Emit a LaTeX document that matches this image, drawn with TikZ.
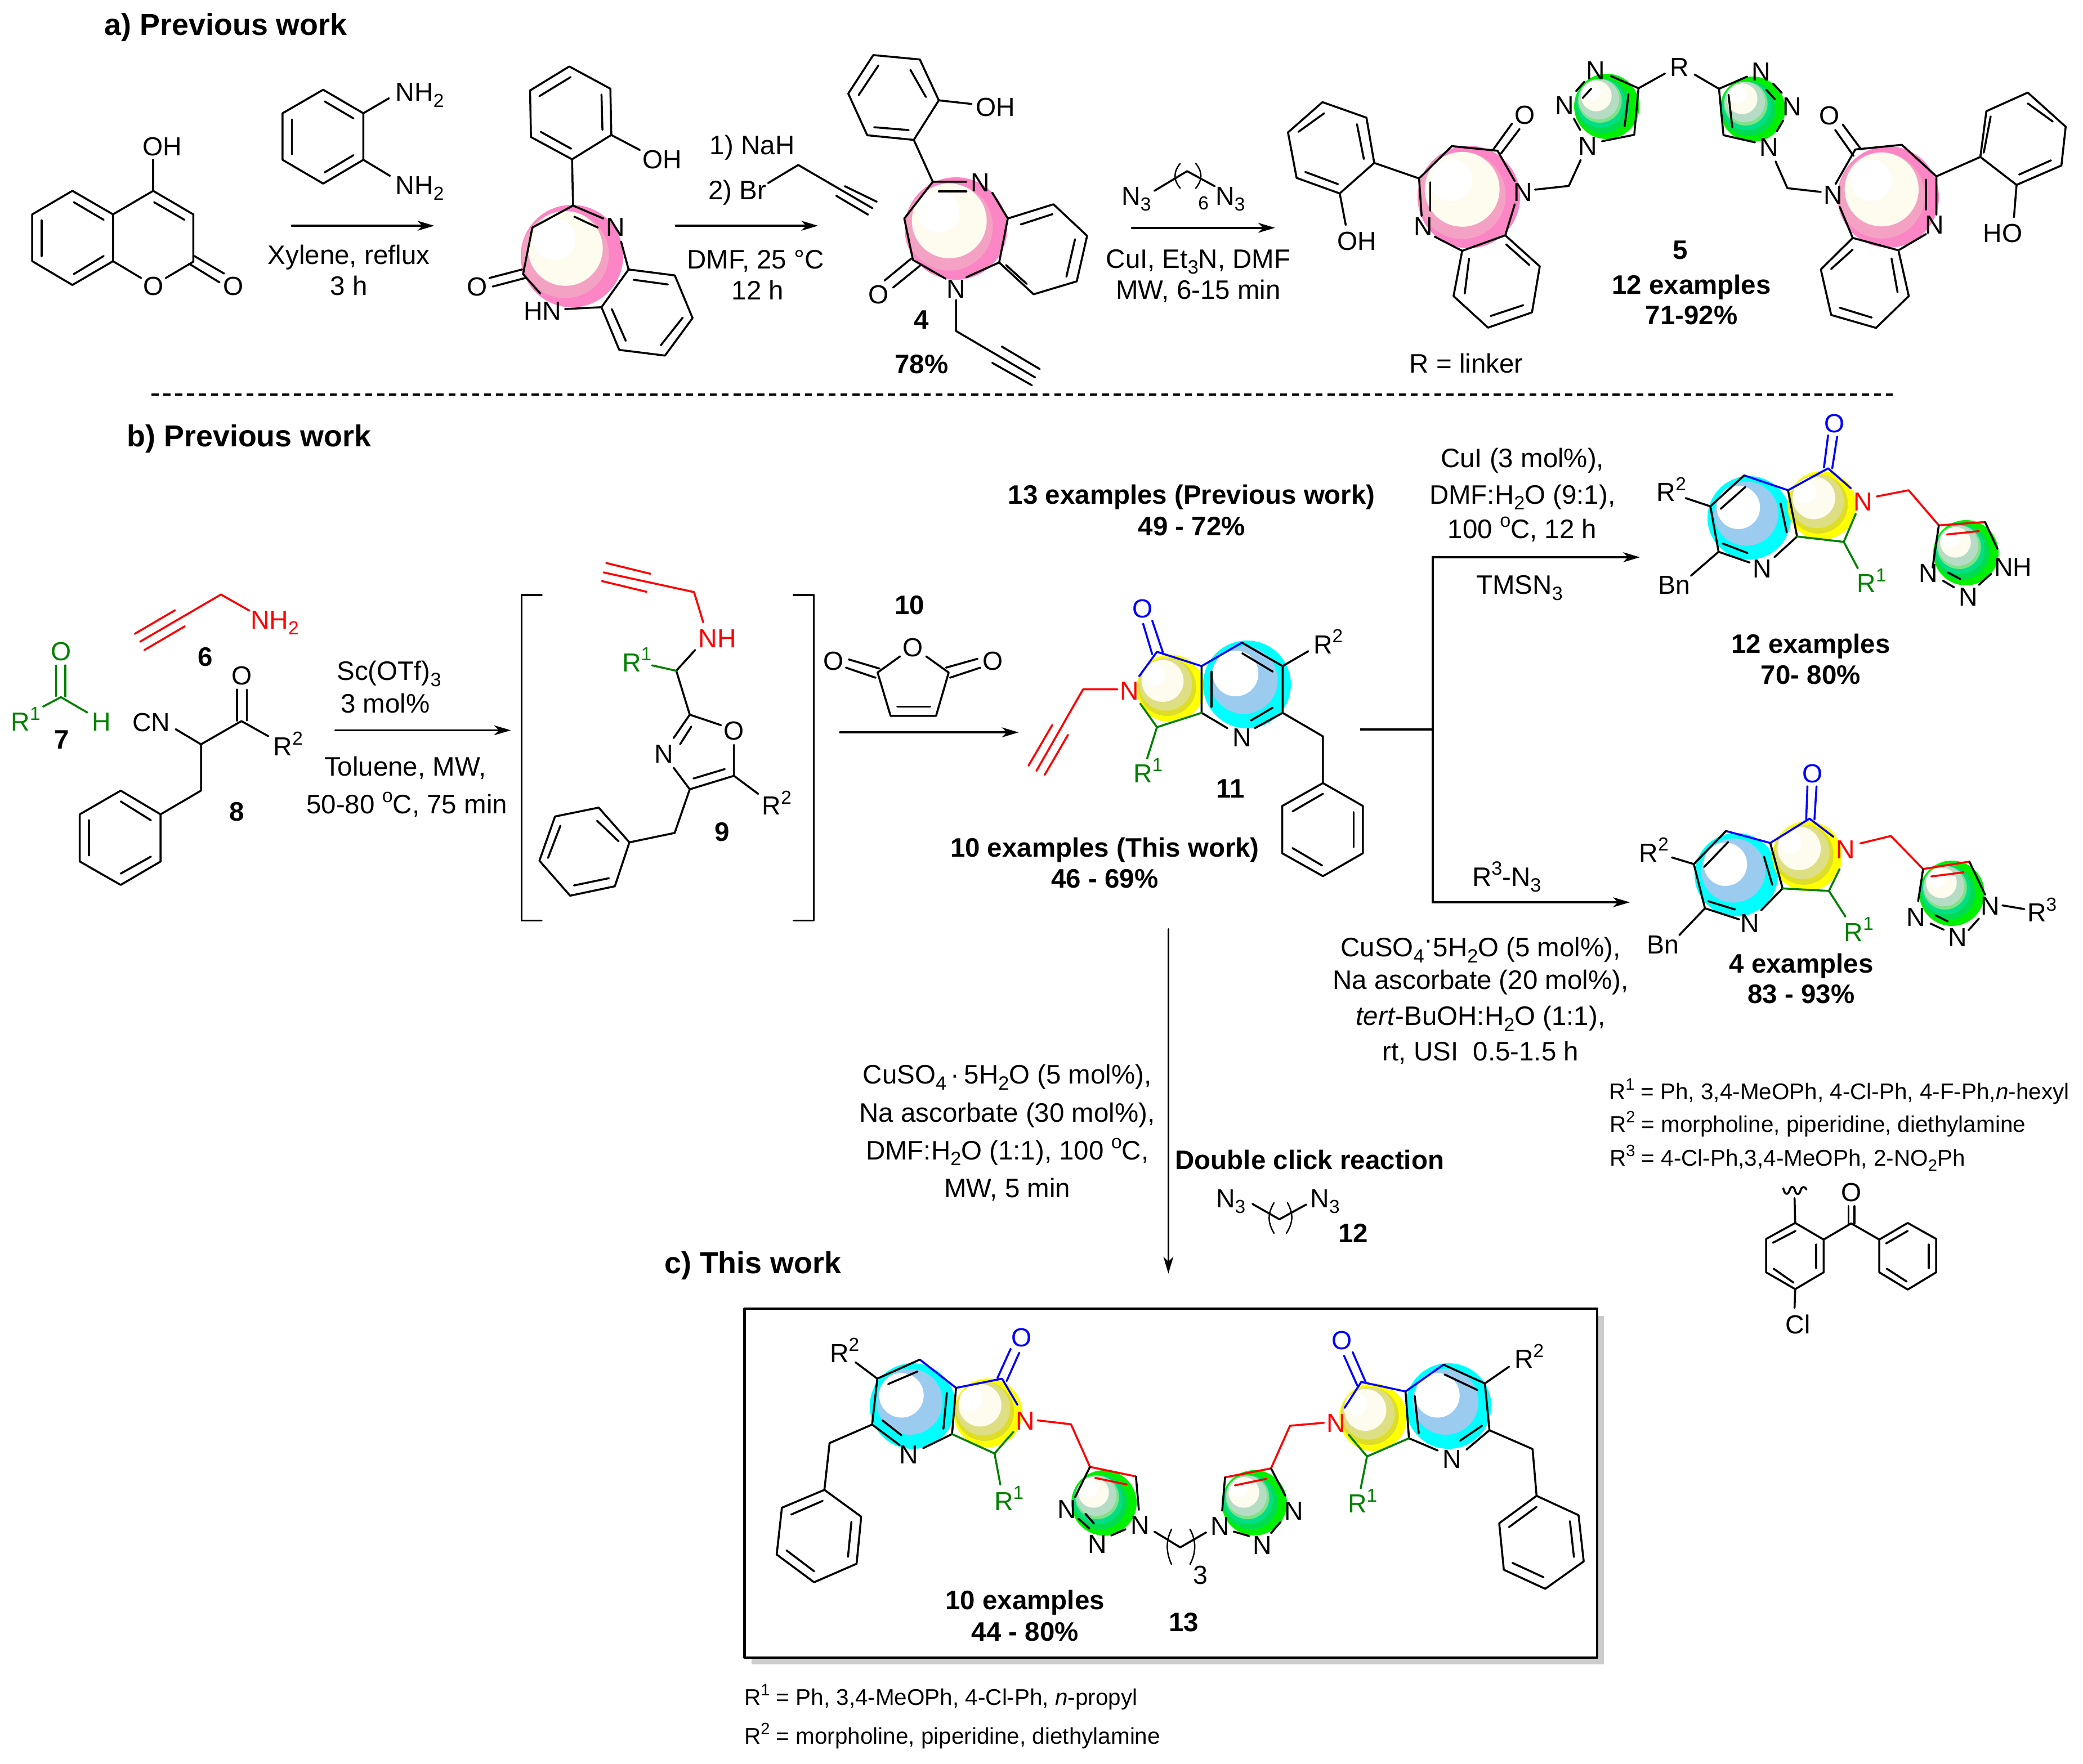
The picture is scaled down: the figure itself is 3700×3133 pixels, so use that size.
\documentclass[tikz,border=0pt]{standalone}
\usepackage{fontspec}
\setmainfont{Liberation Sans}
\usetikzlibrary{arrows.meta}

\definecolor{chemgreen}{HTML}{008000}
\definecolor{boxshadow}{HTML}{CCCCCC}
\definecolor{cream}{HTML}{FEFBEF}
\definecolor{discyan}{HTML}{00FFFF}
\definecolor{disyellow}{HTML}{FFFF00}

\newcommand{\subtxt}[1]{\raisebox{-.22em}{\scalebox{.72}{#1}}}
\newcommand{\suptxt}[1]{\raisebox{.42em}{\scalebox{.72}{#1}}}
\newcommand{\atsub}[1]{\rlap{\subtxt{#1}}}
\newcommand{\atsup}[1]{\rlap{\suptxt{#1}}}

\tikzset{
    crop/.style n args={4}{shift={(#1,#2)},x=#3*0.28453pt/1568,y=-#4*0.28453pt/1568},
    bond/.style={line width=1pt,line cap=round,line join=round},
    atom/.style={inner sep=0pt,text height=9.6pt,text depth=0pt,font=\fontsize{13.2}{16}\selectfont},
    atred/.style={atom,text=red},
    atgreen/.style={atom,text=chemgreen},
    atblue/.style={atom,text=blue},
    rgt/.style={atom,font=\fontsize{13.5}{16}\selectfont},
    tag/.style={atom,font=\fontsize{13.5}{16}\selectfont\bfseries},
    head/.style={atom,anchor=west,font=\fontsize{15.3}{18}\selectfont\bfseries},
    note/.style={atom,anchor=west,font=\fontsize{11.5}{14}\selectfont},
    rxn/.style={line width=1pt,-{Stealth[length=8.5pt,width=5pt,inset=2.5pt]}},
}

% coloured discs behind the rings
\newcommand{\pinkball}[3]{\begin{scope}[shift={(#1,#2)},scale=#3]
\fill[fill={rgb,255:red,251;green,133;blue,197}] (0,0) circle (1);
\fill[fill={rgb,255:red,244;green,162;blue,196}] (-.13,-.03) circle (.85);
\fill[cream] (-.13,-.15) circle (.73);
\fill[white] (-.34,-.33) circle (.41);
\end{scope}}
\newcommand{\greenball}[3]{\begin{scope}[shift={(#1,#2)},scale=#3]
\fill[fill={rgb,255:red,0;green,240;blue,0}] (0,0) circle (1);
\fill[fill={rgb,255:red,0;green,220;blue,80}] (-.12,-.02) circle (.84);
\fill[fill={rgb,255:red,0;green,223;blue,133}] (-.18,-.1) circle (.75);
\fill[fill={rgb,255:red,127;green,226;blue,135}] (-.21,-.17) circle (.67);
\fill[fill={rgb,255:red,183;green,220;blue,197}] (-.24,-.22) circle (.62);
\fill[cream] (-.32,-.32) circle (.47);
\fill[white] (-.47,-.45) circle (.28);
\end{scope}}
\newcommand{\yellowball}[3]{\begin{scope}[shift={(#1,#2)},scale=#3]
\fill[disyellow] (0,0) circle (1);
\fill[fill={rgb,255:red,222;green,222;blue,40}] (-.1,-.04) circle (.86);
\fill[fill={rgb,255:red,222;green,222;blue,133}] (-.14,-.12) circle (.78);
\fill[cream] (-.23,-.22) circle (.62);
\fill[white] (-.49,-.39) circle (.33);
\end{scope}}
\newcommand{\cyanball}[3]{\begin{scope}[shift={(#1,#2)},scale=#3]
\fill[discyan] (0,0) circle (1);
\fill[fill={rgb,255:red,156;green,203;blue,240}] (-.07,-.1) circle (.77);
\fill[white] (-.26,-.25) circle (.52);
\end{scope}}

\begin{document}
\begin{tikzpicture}[x=0.01cm,y=-0.01cm]
\useasboundingbox (0,0) rectangle (3700,3133);

\pinkball{1016}{455}{91}
\pinkball{1698}{406}{91}
\pinkball{2609}{350}{91}
\pinkball{3354}{350}{90}
\greenball{2854}{189}{58}
\greenball{3113}{194}{58}

% a) coumarin, diamine, first product
\begin{scope}[crop={0}{0}{1300}{720},bond]
\node[head] (heada) at (222,100) {a) Previous work};
\draw (242,829) -- (155,738) -- (69,829) -- (69,1010) -- (155,1102) -- (242,1010) -- cycle;
\draw (158,782) -- (222,850);
\draw (89,852) -- (89,990);
\draw (158,1060) -- (222,990);
\draw (242,829) -- (328,738) -- (414,829) -- (414,1012) -- (355,1075);
\draw (242,1010) -- (302,1075);
\draw (330,782) -- (395,850);
\draw (416,990) -- (480,1058);
\draw (405,1020) -- (470,1092);
\draw (328,738) -- (328,618);
\node[atom] (couoh) at (348,565) {OH};
\node[atom] (couoa) at (328,1105) {O};
\node[atom] (couob) at (500,1105) {O};

\draw (692,347) -- (778,438) -- (778,618) -- (692,710) -- (605,618) -- (605,438) -- cycle;
\draw (695,392) -- (757,458);
\draw (625,462) -- (625,597);
\draw (695,667) -- (757,600);
\draw (778,438) -- (833,380);
\draw (778,618) -- (835,680);
\node[atom,anchor=west] (dianha) at (845,355) {NH\atsub{2}};
\node[atom,anchor=west] (dianhb) at (845,715) {NH\atsub{2}};

\coordinate (xyla) at (625,873);
\coordinate (xylb) at (930,873);
\draw[rxn] (xyla) -- (xylb);
\node[rgt] (xyltxt) at (747,985) {Xylene, reflux};
\node[rgt] (xyltime) at (747,1105) {3 h};

\draw (1219,257) -- (1307,343) -- (1309,522) -- (1225,616) -- (1137,530) -- (1135,350) -- cycle;
\draw (1222,298) -- (1155,372);
\draw (1288,366) -- (1290,502);
\draw (1158,510) -- (1223,575);
\draw (1309,522) -- (1370,580);
\node[atom] (proh) at (1418,615) {OH};
\draw (1225,616) -- (1227,795);
\draw (1292,845) -- (1227,795) -- (1140,880) -- (1120,1060) -- (1157,1135);
\draw (1230,838) -- (1280,880);
\node[atom] (prn) at (1318,877) {N};
\draw (1330,935) -- (1346,1042);
\draw (1346,1042) -- (1445,1065) -- (1483,1230) -- (1424,1375) -- (1326,1353) -- (1288,1188) -- cycle;
\draw (1357,1082) -- (1430,1100);
\draw (1462,1228) -- (1415,1335);
\draw (1340,1318) -- (1310,1195);
\draw (1288,1188) -- (1210,1195);
\node[atom] (prhn) at (1162,1200) {HN};
\draw (1118,1042) -- (1048,1075);
\draw (1125,1075) -- (1055,1108);
\node[atom] (pro) at (1022,1107) {O};

\node[rgt,anchor=west] (nahstep) at (1518,560) {1) NaH};
\node[rgt,anchor=west] (brstep) at (1515,735) {2) Br};
\coordinate (naha) at (1447,873);
\end{scope}

\node[rgt] (dmfa) at (1342,461) {DMF, 25 °C};
\node[rgt] (dmfb) at (1346,516) {12 h};

% a) compound 4 and compound 5
\begin{scope}[crop={1300}{0}{2400}{720},bond]
\coordinate (nahb) at (100,873);
\draw[rxn] (naha) -- (nahb);
\draw (42,708) -- (77,638) -- (163,805);
\draw (131,720) -- (168,780);
\draw (121,757) -- (158,830);

\draw (164,213) -- (218,230) -- (240,388) -- (211,541) -- (157,523) -- (135,362) -- cycle;
\draw (170,253) -- (147,368);
\draw (207,270) -- (225,375);
\draw (165,492) -- (205,503);
\draw (240,388) -- (278,402);
\node[atom] (foh) at (306,412) {OH};
\draw (211,541) -- (233,703) -- (272,703);
\draw (240,740) -- (272,740);
\node[atom] (fn) at (288,705) {N};
\draw (302,745) -- (320,845);
\draw (320,845) -- (373,790) -- (412,912) -- (400,1088) -- (350,1138) -- (310,1015) -- cycle;
\draw (335,868) -- (372,828);
\draw (398,925) -- (388,1070);
\draw (342,1098) -- (318,1025);
\draw (310,1015) -- (272,1072);
\node[atom] (fnb) at (260,1115) {N};
\draw (248,1078) -- (210,1005) -- (200,845) -- (233,703);
\draw (208,1000) -- (177,1085);
\draw (218,1028) -- (187,1112);
\node[atom] (fo) at (170,1137) {O};
\draw (260,1160) -- (260,1280) -- (352,1460);
\draw (313,1340) -- (357,1427);
\draw (302,1403) -- (348,1490);
\node[tag] (lblf) at (220,1235) {4};
\node[tag] (yldf) at (220,1408) {78\%};

\coordinate (cuia) at (464,881);
\coordinate (cuib) at (630,881);
\draw[rxn] (cuia) -- (cuib);
\node[atom] (azla) at (463,757) {N\atsub{3}};
\node[atom] (azlb) at (572,757) {N\atsub{3}};
\draw (490,738) -- (528,662) -- (560,720);
\draw[line width=.7pt] (520,632) .. controls (512,665) and (512,695) .. (520,728);
\draw[line width=.7pt] (538,632) .. controls (546,665) and (546,695) .. (538,728);
\node[atom,font=\fontsize{9.5}{11}\selectfont] (azln) at (547,775) {6};
\node[rgt] (cuitxt) at (541,1000) {CuI, Et\subtxt{3}N, DMF};
\node[rgt] (cuitime) at (541,1120) {MW, 6-15 min};

% left half of 5
\draw (685,395) -- (736,455) -- (745,630) -- (705,748) -- (655,688) -- (645,512) -- cycle;
\draw (687,438) -- (657,510);
\draw (725,480) -- (733,615);
\draw (665,665) -- (703,712);
\draw (745,630) -- (797,690);
\draw (705,748) -- (712,870);
\node[atom] (pleftoh) at (725,930) {OH};
\draw (800,835) -- (797,690) -- (835,565) -- (888,583);
\draw (810,705) -- (810,815);
\node[atom] (pleftna) at (802,875) {N};
\draw (815,915) -- (847,970) -- (897,910) -- (908,790);
\draw (888,583) -- (908,700);
\draw (897,910) -- (937,1030) -- (928,1208) -- (877,1267) -- (837,1145) -- (847,970);
\draw (898,945) -- (925,1025);
\draw (855,1000) -- (850,1135);
\draw (880,1222) -- (918,1180);

% right half of 5
\draw (1303,578) -- (1357,560) -- (1397,682) -- (1397,830);
\draw (1385,695) -- (1385,810);
\node[atom] (prightna) at (1395,868) {N};
\draw (1385,905) -- (1353,968) -- (1300,920) -- (1285,800);
\draw (1280,712) -- (1303,578);
\draw (1300,920) -- (1263,1042) -- (1275,1218) -- (1327,1268) -- (1365,1145) -- (1353,968);
\draw (1300,965) -- (1275,1040);
\draw (1345,1000) -- (1352,1130);
\draw (1285,1190) -- (1322,1228);
\draw (1397,682) -- (1448,607);
\draw (1448,607) -- (1490,715) -- (1542,640) -- (1547,490) -- (1503,358) -- (1455,430) -- cycle;
\draw (1503,400) -- (1532,470);
\draw (1460,450) -- (1452,590);
\draw (1493,675) -- (1530,620);
\draw (1490,715) -- (1487,840);
\node[atom] (prightoh) at (1474,900) {HO};

\node[tag] (lblp) at (1100,965) {5};
\node[tag] (expp) at (1113,1100) {12 examples};
\node[tag] (yldp) at (1113,1218) {71-92\%};
\node[rgt] (linker) at (852,1405) {R = linker};
\end{scope}

% triazoles of 5
\begin{scope}[crop={2600}{80}{700}{523},bond]
\node[atom] (tla) at (525,135) {N};
\node[atom] (tlb) at (402,318) {N};
\node[atom] (tlc) at (492,535) {N};
\node[atom] (link) at (857,115) {R};
\draw (800,152) -- (695,230) -- (585,165);
\draw (695,230) -- (678,478) -- (550,512);
\draw (655,262) -- (640,432);
\draw (480,195) -- (447,245);
\draw (507,232) -- (473,282);
\draw (438,392) -- (463,452);
\draw (465,612) -- (418,750) -- (283,770);
\node[atom] (pleftnb) at (235,782) {N};
\draw (192,418) -- (118,555);
\draw (222,447) -- (148,578);
\node[atom] (plefto) at (243,370) {O};
\draw (918,157) -- (1015,233) -- (1127,168);
\node[atom] (tra) at (1183,140) {N};
\draw (1230,205) -- (1265,255);
\draw (1203,238) -- (1237,288);
\node[atom] (trb) at (1305,325) {N};
\draw (1270,402) -- (1245,460);
\node[atom] (trc) at (1213,540) {N};
\draw (1158,518) -- (1033,480) -- (1015,233);
\draw (1053,265) -- (1068,438);
\draw (1240,620) -- (1287,762) -- (1420,782);
\node[atom] (prightnb) at (1470,795) {N};
\node[atom] (prighto) at (1455,372) {O};
\draw (1477,452) -- (1550,590);
\draw (1507,423) -- (1580,555);
\end{scope}

\coordinate (cuta) at (269,701);
\coordinate (cutb) at (3366,701);
\draw[line width=1pt,dash pattern=on 3.6pt off 2.4pt] (cuta) -- (cutb);
\node[head] (headb) at (225,777) {b) Previous work};

% b) components and intermediate 9
\begin{scope}[crop={0}{950}{1500}{750},bond]
\begin{scope}[draw=chemgreen]
\draw (104,485) -- (104,600);
\draw (121,485) -- (121,600);
\draw (80,638) -- (113,603) -- (162,660);
\end{scope}
\node[atgreen] (aldo) at (113,432) {O};
\node[atgreen] (aldr) at (38,693) {R\atsup{1}};
\node[atgreen] (aldh) at (188,693) {H};
\node[tag] (lbla) at (115,760) {7};

\begin{scope}[draw=red]
\draw (463,282) -- (410,222) -- (260,397);
\draw (325,280) -- (250,368);
\draw (343,340) -- (268,428);
\end{scope}
\node[atred] (amine) at (500,315) {NH\atsub{2}};
\node[tag] (lblb) at (381,452) {6};

\node[atom] (isocn) at (281,695) {CN};
\draw (326,722) -- (373,778) -- (448,692) -- (498,748);
\draw (373,778) -- (373,950) -- (298,1038);
\draw (440,575) -- (440,690);
\draw (458,575) -- (458,690);
\node[atom] (isoo) at (449,522) {O};
\node[atom] (isor) at (525,785) {R\atsup{2}};
\node[tag] (lblc) at (440,1028) {8};
\draw (298,1038) -- (224,950) -- (148,1038) -- (148,1213) -- (224,1300) -- (298,1213) -- cycle;
\draw (224,990) -- (280,1060);
\draw (165,1060) -- (165,1190);
\draw (224,1258) -- (280,1195);

\coordinate (sca) at (622,726);
\coordinate (scb) at (948,726);
\draw[rxn] (sca) -- (scb);
\node[rgt] (sctxt) at (722,505) {Sc(OTf)\subtxt{3}};
\node[rgt] (scmol) at (715,625) {3 mol\%};
\node[rgt] (sctol) at (752,860) {Toluene, MW,};
\node[rgt] (sctime) at (755,1000) {50-80 \suptxt{o}C, 75 min};

\draw (1005,224) -- (968,224) -- (968,1432) -- (1005,1432);
\draw (1473,224) -- (1510,224) -- (1510,1432) -- (1473,1432);

\begin{scope}[draw=red]
\draw (1305,325) -- (1288,213) -- (1120,140);
\draw (1207,145) -- (1125,105);
\draw (1200,212) -- (1117,172);
\end{scope}
\node[atred] (intnh) at (1331,383) {NH};
\draw (1290,428) -- (1255,505) -- (1280,668) -- (1338,707);
\draw[chemgreen] (1255,505) -- (1210,485);
\node[atgreen] (intra) at (1172,473) {R\atsup{1}};
\node[atom] (into) at (1362,727) {O};
\draw (1362,780) -- (1362,895) -- (1280,945) -- (1250,865);
\draw (1345,870) -- (1287,905);
\node[atom] (intn) at (1232,812) {N};
\draw (1250,755) -- (1280,668);
\draw (1262,778) -- (1283,712);
\draw (1362,895) -- (1407,962);
\node[atom] (intrb) at (1432,1005) {R\atsup{2}};
\draw (1280,945) -- (1252,1107) -- (1168,1142);
\draw (1168,1142) -- (1111,1013) -- (1030,1046) -- (1001,1210) -- (1058,1340) -- (1141,1305) -- cycle;
\draw (1108,1062) -- (1148,1138);
\draw (1040,1080) -- (1017,1200);
\draw (1065,1302) -- (1130,1275);
\node[tag] (lbld) at (1340,1103) {9};
\end{scope}

\yellowball{2079}{1223}{60}
\cyanball{2215}{1216}{78}

% b) anhydride and compound 11
\begin{scope}[crop={1450}{800}{1100}{850},bond]
\node[tag] (expa) at (950,145) {13 examples (Previous work)};
\node[tag] (ylda) at (950,248) {49 - 72\%};
\node[tag] (lble) at (236,507) {10};
\node[atom] (anho) at (245,645) {O};
\draw (212,675) -- (155,728) -- (188,870) -- (303,870) -- (335,728) -- (278,675);
\draw (205,840) -- (288,840);
\draw (160,715) -- (82,685);
\draw (150,745) -- (75,712);
\node[atom] (anhl) at (43,688) {O};
\draw (328,712) -- (408,683);
\draw (338,745) -- (415,712);
\node[atom] (anhr) at (447,688) {O};
\coordinate (maa) at (60,924);
\coordinate (mab) at (512,924);
\draw[rxn] (maa) -- (mab);

\node[atred] (lacn) at (792,787) {N};
\begin{scope}[draw=red]
\draw (762,783) -- (675,783) -- (557,1050);
\draw (597,900) -- (537,1033);
\draw (637,932) -- (578,1063);
\end{scope}
\begin{scope}[draw=blue]
\draw (817,740) -- (862,660) -- (975,707) -- (1077,630);
\draw (850,668) -- (827,568);
\draw (877,662) -- (850,558);
\end{scope}
\node[atblue] (laco) at (826,518) {O};
\draw (1077,630) -- (1180,707) -- (1180,860) -- (1110,910);
\draw (1078,665) -- (1155,725);
\draw (1100,885) -- (1155,843);
\node[atom] (pyn) at (1077,940) {N};
\draw (1040,910) -- (975,860) -- (975,707);
\draw (1000,725) -- (1000,840);
\begin{scope}[draw=chemgreen]
\draw (975,860) -- (862,907) -- (820,830);
\draw (862,907) -- (837,1010);
\end{scope}
\node[atgreen] (lacra) at (826,1057) {R\atsup{1}};
\draw (1180,707) -- (1245,658);
\node[atom] (lacrb) at (1282,635) {R\atsup{2}};
\draw (1180,860) -- (1282,937) -- (1282,1090);
\draw (1282,1090) -- (1383,1165) -- (1383,1320) -- (1282,1395) -- (1179,1320) -- (1179,1165) -- cycle;
\draw (1282,1125) -- (1205,1183);
\draw (1360,1185) -- (1360,1300);
\draw (1280,1360) -- (1205,1303);
\node[tag] (lblg) at (1048,1108) {11};
\node[tag] (expb) at (730,1300) {10 examples (This work)};
\node[tag] (yldb) at (730,1403) {46 - 69\%};
\end{scope}

\coordinate (forka) at (2416,1296);
\coordinate (forkb) at (2545,1296);
\coordinate (forkt) at (2545,990);
\coordinate (forkd) at (2545,1603);
\coordinate (tmsend) at (2913,990);
\coordinate (azend) at (2895,1603);
\draw[line width=1pt] (forka) -- (forkb);
\draw[rxn] (forkb) -- (forkt) -- (tmsend);
\draw[rxn] (forkb) -- (forkd) -- (azend);

\cyanball{3107}{920}{74}
\yellowball{3236}{898}{61}
\greenball{3492}{982}{58}
\cyanball{3084}{1554}{74}
\yellowball{3210}{1521}{62}
\greenball{3467}{1587}{58}

% b) the two triazole products
\begin{scope}[crop={2550}{700}{1150}{1150},bond]
\node[rgt] (tmsa) at (210,155) {CuI (3 mol\%),};
\node[rgt] (tmsb) at (210,243) {DMF:H\subtxt{2}O (9:1),};
\node[rgt] (tmsc) at (210,327) {100 \suptxt{o}C, 12 h};
\node[rgt] (tmsd) at (203,462) {TMSN\subtxt{3}};

\begin{scope}[draw=blue]
\draw (747,197) -- (853,233) -- (950,180) -- (1005,228);
\draw (940,178) -- (950,100);
\draw (960,180) -- (972,103);
\end{scope}
\node[atblue] (upo) at (965,70) {O};
\draw (747,197) -- (665,272) -- (685,382) -- (760,408);
\draw (750,225) -- (690,278);
\draw (695,362) -- (755,385);
\node[atom] (upn) at (790,422) {N};
\draw (820,395) -- (875,345) -- (853,233);
\draw (835,265) -- (850,335);
\begin{scope}[draw=chemgreen]
\draw (875,345) -- (988,358) -- (1017,290);
\draw (988,358) -- (1022,422);
\end{scope}
\node[atgreen] (upra) at (1043,458) {R\atsup{1}};
\node[atred] (uplac) at (1035,260) {N};
\begin{scope}[draw=red]
\draw (1068,248) -- (1145,233) -- (1218,318) -- (1330,310);
\draw (1238,340) -- (1315,332);
\end{scope}
\draw (1218,318) -- (1203,420);
\draw (1330,310) -- (1360,375);
\node[atom] (upta) at (1193,433) {N};
\node[atom] (uptb) at (1290,490) {N};
\node[atom] (uptc) at (1398,418) {NH};
\draw (1228,452) -- (1255,468);
\draw (1240,432) -- (1270,448);
\draw (1315,462) -- (1345,435);
\draw (605,252) -- (665,272);
\node[atom] (uprb) at (558,237) {R\atsup{2}};
\draw (685,382) -- (618,440);
\node[atom] (upbn) at (578,462) {Bn};
\node[tag] (expc) at (908,605) {12 examples};
\node[tag] (yldc) at (908,680) {70- 80\%};

\node[rgt] (aza) at (172,1168) {R\suptxt{3}-N\subtxt{3}};
\begin{scope}[draw=blue]
\draw (703,1058) -- (810,1087) -- (905,1028) -- (963,1072);
\draw (897,1030) -- (900,950);
\draw (917,1030) -- (922,950);
\end{scope}
\node[atblue] (loo) at (912,918) {O};
\draw (703,1058) -- (625,1138) -- (652,1245) -- (735,1272);
\draw (708,1085) -- (650,1145);
\draw (660,1228) -- (725,1248);
\node[atom] (lon) at (760,1280) {N};
\draw (788,1250) -- (840,1197) -- (810,1087);
\draw (795,1120) -- (815,1188);
\begin{scope}[draw=chemgreen]
\draw (840,1197) -- (952,1203) -- (978,1150);
\draw (952,1203) -- (992,1265);
\end{scope}
\node[atgreen] (lora) at (1012,1302) {R\atsup{1}};
\node[atred] (lolac) at (993,1102) {N};
\begin{scope}[draw=red]
\draw (1028,1088) -- (1102,1070) -- (1180,1150) -- (1292,1132);
\draw (1200,1168) -- (1278,1158);
\end{scope}
\draw (1180,1150) -- (1168,1228);
\draw (1292,1132) -- (1330,1212);
\node[atom] (lota) at (1163,1265) {N};
\node[atom] (lotb) at (1263,1315) {N};
\node[atom] (lotc) at (1343,1238) {N};
\draw (1198,1282) -- (1230,1297);
\draw (1210,1262) -- (1240,1277);
\draw (1290,1298) -- (1315,1270);
\draw (1372,1238) -- (1425,1247);
\node[atom] (lorc) at (1455,1255) {R\atsup{3}};
\draw (572,1122) -- (625,1138);
\node[atom] (lorb) at (516,1110) {R\atsup{2}};
\draw (652,1245) -- (590,1310);
\node[atom] (lobn) at (550,1332) {Bn};
\node[tag] (expd) at (885,1378) {4 examples};
\node[tag] (yldd) at (885,1452) {83 - 93\%};
\end{scope}

\node[rgt] (uspa) at (2630,1683) {CuSO\subtxt{4}\raisebox{.3em}{·}5H\subtxt{2}O (5 mol\%),};
\node[rgt] (uspb) at (2630,1741) {Na ascorbate (20 mol\%),};
\node[rgt] (uspc) at (2630,1805) {\textit{tert}-BuOH:H\subtxt{2}O (1:1),};
\node[rgt] (uspd) at (2630,1868) {rt, USI\ \ 0.5-1.5 h};

% substituent list and benzophenone fragment
\begin{scope}[crop={2800}{1850}{900}{600},bond]
\node[note] (lista) at (98,225) {R\suptxt{1} = Ph, 3,4-MeOPh, 4-Cl-Ph, 4-F-Ph,\textit{n}-hexyl};
\node[note] (listb) at (100,378) {R\suptxt{2} = morpholine, piperidine, diethylamine};
\node[note] (listc) at (100,535) {R\suptxt{3} = 4-Cl-Ph,3,4-MeOPh, 2-NO\subtxt{2}Ph};
\draw (677,843) -- (765,920) -- (765,1072) -- (677,1150) -- (587,1072) -- (587,917) -- cycle;
\draw (678,880) -- (608,935);
\draw (742,943) -- (742,1052);
\draw (610,1055) -- (672,1120);
\draw (677,843) -- (675,728);
\draw (640,682) .. controls (645,715) and (655,715) .. (660,690) .. controls (664,670) and (672,670) .. (676,690) .. controls (680,715) and (690,715) .. (694,690) .. controls (697,672) and (708,672) .. (712,688);
\draw (765,920) -- (850,845) -- (937,920);
\draw (842,845) -- (842,765);
\draw (860,845) -- (860,765);
\node[atom] (bzo) at (850,700) {O};
\draw (937,920) -- (1025,843) -- (1113,917) -- (1113,1072) -- (1025,1152) -- (937,1072) -- cycle;
\draw (1025,880) -- (958,938);
\draw (1090,943) -- (1090,1052);
\draw (960,1055) -- (1022,1115);
\draw (677,1150) -- (675,1237);
\node[atom] (bzcl) at (685,1312) {Cl};
\end{scope}

% reagents of the click step
\begin{scope}[crop={1100}{1640}{1500}{680},bond]
\coordinate (clicka) at (1019,25);
\coordinate (clickb) at (1019,1435);
\draw[rxn] (clicka) -- (clickb);
\node[rgt] (clk) at (720,620) {CuSO\subtxt{4}\,·\,5H\subtxt{2}O (5 mol\%),};
\node[rgt] (cll) at (720,775) {Na ascorbate (30 mol\%),};
\node[rgt] (clm) at (720,930) {DMF:H\subtxt{2}O (1:1), 100 \suptxt{o}C,};
\node[rgt] (cln) at (720,1085) {MW, 5 min};
\node[tag,anchor=west] (dbl) at (1030,970) {Double click reaction};
\node[atom] (diaza) at (1125,1125) {N\atsub{3}};
\node[atom] (diazb) at (1300,1125) {N\atsub{3}};
\draw (1175,1150) -- (1225,1213) -- (1275,1152);
\draw[line width=.7pt] (1215,1145) .. controls (1203,1190) and (1203,1225) .. (1215,1270);
\draw[line width=.7pt] (1240,1145) .. controls (1251,1190) and (1251,1225) .. (1238,1270);
\node[tag] (lblh) at (1362,1270) {12};
\node[head] (headc) at (82,1395) {c) This work};
\end{scope}

% c) boxed product 13
\begin{scope}[crop={1300}{2300}{1600}{830},bond]
\fill[boxshadow] (34,72) rectangle (1517,1240);
\draw[line width=1.2pt,fill=white] (22,47) rectangle (1505,1218);
\end{scope}

\cyanball{1621}{2498}{76}
\yellowball{1755}{2510}{61}
\greenball{1961}{2670}{58}
\cyanball{2573}{2498}{76}
\yellowball{2439}{2518}{60}
\greenball{2228}{2670}{58}

\begin{scope}[crop={1300}{2300}{1600}{830},bond]
\begin{scope}[draw=blue]
\draw (327,218) -- (390,313) -- (470,282) -- (497,370);
\draw (462,280) -- (485,182);
\draw (478,290) -- (500,195);
\end{scope}
\node[atblue] (bxlo) at (504,143) {O};
\draw (327,218) -- (253,282) -- (244,436) -- (292,505);
\draw (323,258) -- (272,300);
\draw (262,422) -- (295,472);
\node[atom] (bxln) at (308,535) {N};
\draw (333,515) -- (383,468) -- (390,313);
\draw (374,330) -- (368,450);
\begin{scope}[draw=chemgreen]
\draw (383,468) -- (457,533) -- (490,460);
\draw (457,533) -- (467,637);
\end{scope}
\node[atgreen] (bxlra) at (473,692) {R\atsup{1}};
\draw (253,282) -- (215,227);
\node[atom] (bxlrb) at (187,195) {R\atsup{2}};
\node[atred] (bxllac) at (511,423) {N};
\begin{scope}[draw=red]
\draw (532,422) -- (590,435) -- (623,578) -- (703,610);
\draw (632,615) -- (687,637);
\end{scope}
\draw (623,578) -- (597,680);
\draw (703,610) -- (708,722);
\node[atom] (bxlta) at (583,718) {N};
\node[atom] (bxltb) at (710,772) {N};
\node[atom] (bxltc) at (636,835) {N};
\draw (603,752) -- (622,785);
\draw (615,735) -- (630,768);
\draw (660,808) -- (685,787);
\draw (735,795) -- (780,848) -- (825,798);
\draw[line width=.7pt] (765,787) .. controls (755,825) and (755,865) .. (765,905);
\draw[line width=.7pt] (797,787) .. controls (808,825) and (808,865) .. (797,905);
\node[atom] (bxn) at (815,940) {3};
\draw (244,436) -- (170,498) -- (161,655);
\draw (161,655) -- (225,745) -- (217,903) -- (143,965) -- (78,872) -- (87,715) -- cycle;
\draw (158,692) -- (103,738);
\draw (208,762) -- (202,880);
\draw (143,928) -- (95,858);

\node[atred] (bxrlac) at (1051,430) {N};
\begin{scope}[draw=blue]
\draw (1066,380) -- (1095,293) -- (1172,325) -- (1238,235);
\draw (1088,305) -- (1065,205);
\draw (1103,295) -- (1080,193);
\end{scope}
\node[atblue] (bxro) at (1061,152) {O};
\draw (1238,235) -- (1310,298) -- (1318,455) -- (1278,520);
\draw (1240,268) -- (1297,320);
\draw (1305,440) -- (1267,490);
\node[atom] (bxrn) at (1253,550) {N};
\draw (1228,523) -- (1178,482) -- (1172,325);
\draw (1188,340) -- (1195,465);
\begin{scope}[draw=chemgreen]
\draw (1178,482) -- (1105,543) -- (1073,470);
\draw (1105,543) -- (1094,650);
\end{scope}
\node[atgreen] (bxrra) at (1088,700) {R\atsup{1}};
\draw (1310,298) -- (1352,242);
\node[atom] (bxrrb) at (1378,215) {R\atsup{2}};
\draw (1318,455) -- (1393,518) -- (1400,675);
\draw (1400,675) -- (1473,740) -- (1482,895) -- (1415,987) -- (1343,923) -- (1335,767) -- cycle;
\draw (1400,712) -- (1352,780);
\draw (1458,760) -- (1465,880);
\draw (1412,948) -- (1358,900);
\begin{scope}[draw=red]
\draw (1030,430) -- (971,440) -- (938,583) -- (858,613);
\draw (930,618) -- (875,640);
\end{scope}
\draw (938,583) -- (963,675);
\draw (858,613) -- (853,725);
\node[atom] (bxrta) at (978,725) {N};
\node[atom] (bxrtb) at (849,775) {N};
\node[atom] (bxrtc) at (923,840) {N};
\draw (955,762) -- (938,800);
\draw (873,795) -- (900,810);
\node[tag] (expe) at (510,1025) {10 examples};
\node[tag] (ylde) at (510,1130) {44 - 80\%};
\node[tag] (lbli) at (786,1098) {13};
\node[note] (tailb) at (20,1345) {R\suptxt{1} = Ph, 3,4-MeOPh, 4-Cl-Ph, \textit{n}-propyl};
\node[note] (tailc) at (20,1475) {R\suptxt{2} = morpholine, piperidine, diethylamine};
\end{scope}

\end{tikzpicture}
\end{document}
